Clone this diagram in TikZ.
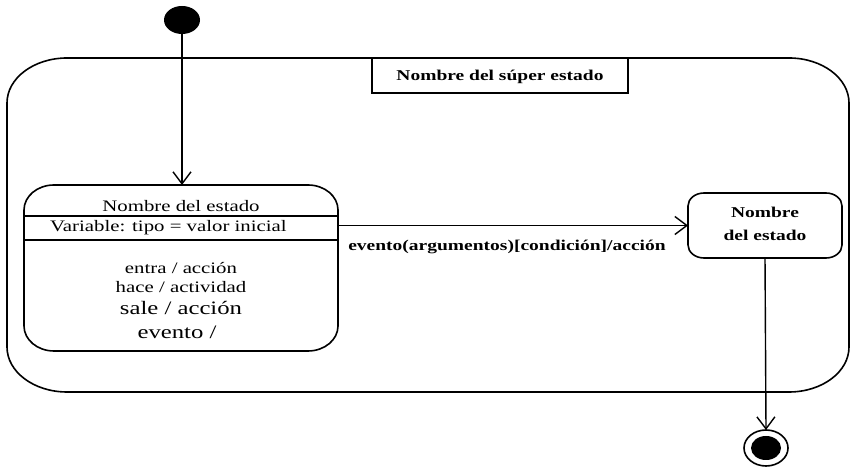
\documentclass[tikz,border=0pt]{standalone}
\usepackage{fontspec}
\setmainfont{Liberation Serif}
\usepackage{graphicx}
\usetikzlibrary{arrows.meta,shapes.geometric}

% text set a little wider than the font draws it
\newcommand{\widetext}[1]{\scalebox{1.3}[1]{#1}}

% outline of a node with elliptical corners: node, x radius, y radius
\newcommand{\ovalframe}[3]{%
  \draw[frame] ([xshift=#2]#1.north west) -- ([xshift=-#2]#1.north east)
    arc[start angle=90, end angle=0, x radius=#2, y radius=#3]
    -- ([yshift=#3]#1.south east)
    arc[start angle=0, end angle=-90, x radius=#2, y radius=#3]
    -- ([xshift=#2]#1.south west)
    arc[start angle=270, end angle=180, x radius=#2, y radius=#3]
    -- ([yshift=-#3]#1.north west)
    arc[start angle=180, end angle=90, x radius=#2, y radius=#3] -- cycle;}

\begin{document}
\begin{tikzpicture}[x=1pt, y=1pt,
  frame/.style={line width=1.6pt, line join=round},
  area/.style={rectangle, inner sep=0pt, outer sep=0pt},
  txt/.style={inner sep=0pt, font=\fontsize{16}{18}\selectfont},
  boldtxt/.style={inner sep=0pt, font=\bfseries\fontsize{15}{17}\selectfont},
  bigtxt/.style={inner sep=0pt, font=\fontsize{19}{21}\selectfont},
  flow/.style={line width=1.4pt, -{Straight Barb[length=12pt, width=18pt, line width=1.4pt]}},
  dot/.style={ellipse, fill=black, inner sep=0pt, outer sep=0pt}
]
\useasboundingbox (0,0) rectangle (850,470);

% composite state and its name tab
\node[area, minimum width=842pt, minimum height=334pt] (super) at (428,245) {};
\ovalframe{super}{60pt}{45pt}
\node[area, draw, line width=1.6pt, minimum width=256pt, minimum height=35pt] (supername) at (500,394.5) {};
\node[boldtxt] (supertitle) at (500,393) {\widetext{Nombre del súper estado}};

% state with compartments
\node[area, minimum width=314pt, minimum height=166pt] (left) at (181,202) {};
\ovalframe{left}{30pt}{25pt}
\node[txt] (lefttitle) at (181,264) {\widetext{Nombre del estado}};
\coordinate (sepA) at (0,254);
\coordinate (sepB) at (0,230);
\draw[frame] (left.west |- sepA) -- (left.east |- sepA);
\draw[frame] (left.west |- sepB) -- (left.east |- sepB);
\node[txt, anchor=west] (leftvar) at (50,242) {\widetext{Variable: tipo = valor inicial}};
\node[txt] (entra) at (181,202) {\widetext{entra / acción}};
\node[txt] (hace) at (181,183) {\widetext{hace / actividad}};
\node[bigtxt] (sale) at (181,162) {\widetext{sale / acción}};
\node[bigtxt] (evento) at (177,138) {\widetext{evento /}};

% simple state
\node[area, minimum width=154pt, minimum height=65pt] (right) at (765,244.5) {};
\ovalframe{right}{16pt}{13pt}
\node[boldtxt] (rightA) at (765,258) {\widetext{Nombre}};
\node[boldtxt] (rightB) at (765,235) {\widetext{del estado}};

% initial and final pseudostates
\node[dot, minimum width=36pt, minimum height=28pt] (init) at (182,450) {};
\node[ellipse, draw, line width=1.6pt, fill=white, minimum width=44pt, minimum height=36pt, inner sep=0pt, outer sep=0pt] (final) at (766,22) {};
\node[dot, minimum width=30pt, minimum height=24pt] (finalcore) at (766,22) {};

% transitions
\draw[flow] (init.south) -- (init.south |- left.north);
\draw[flow] (right.west -| left.east) -- (right.west);
\node[boldtxt] (trigger) at (507,223) {\widetext{evento(argumentos)[condición]/acción}};
\draw[flow] (right.south) -- (final.north);
\end{tikzpicture}
\end{document}
